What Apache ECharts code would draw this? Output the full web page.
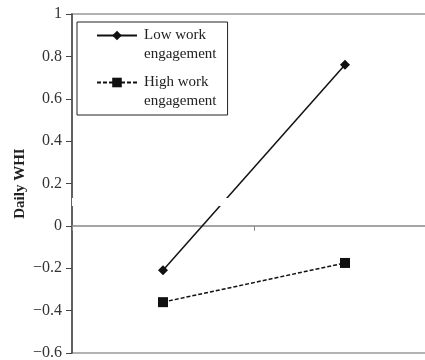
<!DOCTYPE html>
<html>
<head>
<meta charset="utf-8">
<script src="https://cdn.jsdelivr.net/npm/echarts@6/dist/echarts.min.js"></script>
<style>html,body{margin:0;padding:0;background:#fff;}#c{width:425px;height:360px;}</style>
</head>
<body>
<div id="c"></div>
<script>
const categories = ['Low', 'High'];
const seriesNames = ['Low work\nengagement', 'High work\nengagement'];
const lowWork = [-0.21, 0.76];
const highWork = [-0.36, -0.175];
const yAxisName = 'Daily WHI';
const axisBreak = [0.094, 0.131];

const chart = echarts.init(document.getElementById('c'));
const serif = '"Liberation Serif", "DejaVu Serif", serif';
const legendText = { fontFamily: serif, fontSize: 15, color: '#222', lineHeight: 19, padding: [0, 0, 0, 2] };
chart.setOption({
  backgroundColor: '#fff',
  animation: false,
  grid: { left: 72, width: 364, top: 14, bottom: 7, show: true, borderColor: '#999', borderWidth: 1.5, outerBoundsMode: 'none', containLabel: false },
  legend: [
    {
      data: seriesNames,
      orient: 'vertical',
      left: 77, top: 22,
      padding: [4, 19, 23, 19],
      borderColor: '#222', borderWidth: 1,
      itemWidth: 40, itemHeight: 12, itemGap: 28,
      formatter: n => n.split('\n')[0],
      textStyle: legendText
    },
    {
      data: seriesNames,
      orient: 'vertical',
      left: 77, top: 41,
      padding: [4, 19, 4, 19],
      itemWidth: 40, itemHeight: 12, itemGap: 28,
      itemStyle: { opacity: 0 },
      lineStyle: { opacity: 0 },
      formatter: n => n.split('\n')[1],
      textStyle: legendText
    }
  ],
  xAxis: {
    type: 'category', data: categories,
    axisLine: { lineStyle: { color: '#888', width: 1.5 } },
    axisTick: { show: true, length: 5, lineStyle: { color: '#888' } },
    axisLabel: { show: false },
    splitLine: { show: false }
  },
  yAxis: {
    type: 'value', min: -0.6, max: 1, interval: 0.2,
    name: yAxisName, nameLocation: 'middle', nameGap: 44, nameRotate: 90, nameMoveOverlap: false,
    nameTextStyle: { fontFamily: serif, fontSize: 15, fontWeight: 'bold', color: '#222' },
    axisLine: { show: true, onZero: false, lineStyle: { color: '#444', width: 1.5 } },
    axisTick: { show: true, length: 6, lineStyle: { color: '#444' } },
    axisLabel: {
      fontFamily: serif, fontSize: 16, color: '#333', margin: 10,
      formatter: v => { const r = Math.round(v * 10) / 10; return (r < 0 ? '\u2212' : '') + Math.abs(r); }
    },
    splitLine: { show: false }
  },
  series: [
    {
      name: seriesNames[0], type: 'line', data: lowWork,
      symbol: 'diamond', symbolSize: 10,
      lineStyle: { color: '#111', width: 1.5 },
      itemStyle: { color: '#111' }
    },
    {
      name: seriesNames[1], type: 'line', data: highWork,
      symbol: 'rect', symbolSize: 10,
      lineStyle: { color: '#111', width: 1.5, type: [4, 2] },
      itemStyle: { color: '#111' }
    },
    {
      name: 'break', type: 'line', data: [], z: 10,
      markArea: {
        silent: true, z: 10,
        itemStyle: { color: '#fff' },
        data: [[{ yAxis: axisBreak[0] }, { yAxis: axisBreak[1] }]]
      }
    }
  ]
});
</script>
</body>
</html>
